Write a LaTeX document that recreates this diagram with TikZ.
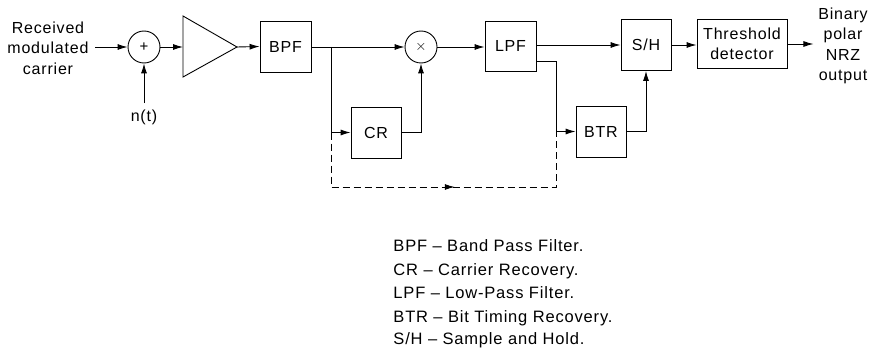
\documentclass[tikz,border=0pt]{standalone}
\usepackage{fontspec}
\setmainfont{Liberation Sans}[LetterSpace=5]
\usetikzlibrary{arrows.meta,decorations.markings}
\begin{document}
\begin{tikzpicture}[x=1pt,y=-1pt,
  line width=0.9pt,
  txt/.style={font={\fontsize{16}{20.5}\selectfont},inner sep=0pt,align=center},
  leg/.style={font={\fontsize{16.5}{20.5}\selectfont},inner sep=0pt,anchor=base west},
  blk/.style={draw,txt,minimum width=51pt,minimum height=51pt},
  circ/.style={draw,circle,minimum size=32pt,inner sep=0pt,font={\fontsize{15}{15}\selectfont}},
  arr/.style={-{Latex[length=10pt,width=6pt]}},
  midarr/.style={postaction={decorate},decoration={markings,mark=at position 0.55 with {\arrow{Latex[length=10pt,width=6pt]}}}}
]
\useasboundingbox (0,0) rectangle (876,353);

% nodes
\node[txt] (recv) at (48,48) {Received\\modulated\\carrier};
\node[circ] (sum) at (144,47) {+};
\node[txt] (nt) at (144,117) {n(t)};
\draw (183,16) -- (237,47) -- (183,77) -- cycle;
\coordinate (ampin) at (183,47);
\coordinate (ampout) at (237,47);
\node[blk] (bpf) at (285.5,46.5) {BPF};
\node[circ] (mult) at (421,47) {$\times$};
\node[blk,minimum height=50pt] (lpf) at (510.5,46) {LPF};
\node[blk,minimum width=50pt] (cr) at (376,132.5) {CR};
\node[blk,minimum width=50pt] (btr) at (601,131.5) {BTR};
\node[blk,minimum width=50pt] (sh) at (646,45) {S/H};
\node[blk,minimum width=90pt,minimum height=49pt] (thr) at (742,44) {Threshold\\detector};
\node[txt] (out) at (843,46) {Binary\\polar\\NRZ\\output};

% connectors
\draw[arr,shorten <=6pt] (recv.east |- sum) -- (sum.west);
\draw[arr] ([yshift=6pt]nt.north) -- (sum.south);
\draw[arr] (sum.east) -- (ampin);
\draw[arr] (ampout) -- (bpf.west);
\coordinate (b1) at (331,47);
\coordinate (b2) at (331,132.5);
\coordinate (b3) at (556,131.5);
\coordinate (d1) at (331,187);
\coordinate (d2) at (556,187);
\draw[arr] (bpf.east |- b1) -- (mult.west);
\draw[arr] (b1) -- (b2) -- (cr.west);
\draw[arr] (cr.east) -| (mult.south);
\draw[arr] (mult.east) -- (mult.east -| lpf.west);
\draw[arr] ([yshift=1pt]lpf.east) -- ([yshift=1pt]lpf.east -| sh.west);
\draw[arr] ([yshift=-15pt]lpf.east) -| (b3) -- (btr.west);
\draw[arr] (btr.east) -| (sh.south);
\draw[arr] (sh.east) -- (sh.east -| thr.west);
\draw[arr] (thr.east) -- ++(26,0) coordinate (oe);
\draw[dashed,dash pattern=on 7pt off 4pt] (b2) -- (d1) -- (d2) -- (b3);
\path[midarr] (d1) -- (d2);

% legend
\node[leg] (l1) at (393,251.5) {BPF \textendash\ Band Pass Filter.};
\node[leg] (l2) at (393,275) {CR \textendash\ Carrier Recovery.};
\node[leg] (l3) at (393,298.5) {LPF \textendash\ Low-Pass Filter.};
\node[leg] (l4) at (393,322) {BTR \textendash\ Bit Timing Recovery.};
\node[leg] (l5) at (393,344.5) {S/H \textendash\ Sample and Hold.};
\end{tikzpicture}
\end{document}
